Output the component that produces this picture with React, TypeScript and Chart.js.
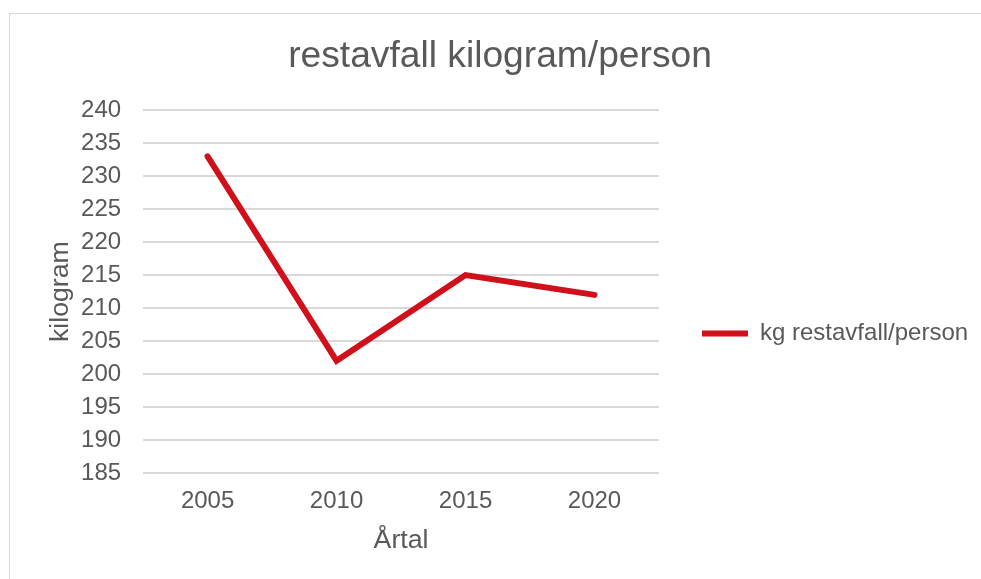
import React, { useEffect, useRef } from "react";
import { Chart, registerables } from "chart.js";

Chart.register(...registerables);

const years = ["2005", "2010", "2015", "2020"];
const kgPerPerson = [233, 202, 215, 212];
const seriesLabel = "kg restavfall/person";
const chartTitle = "restavfall kilogram/person";
const xAxisTitle = "Årtal";
const yAxisTitle = "kilogram";
const yMin = 185;
const yMax = 240;
const yStep = 5;

const FONT = "'Liberation Sans', Arial, Helvetica, sans-serif";
const TEXT = "#595959";
const GRID = "#d9d9d9";
const RED = "#d0101a";

export default function App() {
  const ref = useRef<HTMLCanvasElement | null>(null);

  useEffect(() => {
    if (!ref.current) return;
    const chart = new Chart(ref.current, {
      type: "line",
      data: {
        labels: years,
        datasets: [
          {
            label: seriesLabel,
            data: kgPerPerson,
            borderColor: RED,
            backgroundColor: RED,
            borderWidth: 6,
            borderCapStyle: "round",
            pointRadius: 0,
            pointHoverRadius: 0,
            pointStyle: "line",
            tension: 0,
            fill: false,
          },
        ],
      },
      options: {
        responsive: false,
        animation: false,
        devicePixelRatio: 1,
        layout: { padding: { left: 22, right: 3, top: 20, bottom: 18 } },
        plugins: {
          title: {
            display: true,
            text: chartTitle,
            color: TEXT,
            font: { family: FONT, size: 37.2, weight: "normal" },
            padding: { top: 14, bottom: 31.6 },
          },
          legend: {
            position: "right",
            maxWidth: 319,
            title: {
              display: true,
              text: "",
              font: { family: FONT, size: 12 },
              padding: { top: 71.6, bottom: 0 },
            },
            labels: {
              usePointStyle: true,
              pointStyle: "line",
              pointStyleWidth: 46,
              boxHeight: 24,
              padding: 43,
              color: TEXT,
              font: { family: FONT, size: 24 },
            },
          },
          tooltip: { enabled: false },
        },
        scales: {
          x: {
            offset: true,
            grid: { display: false, drawTicks: false },
            border: { display: false },
            ticks: {
              color: TEXT,
              font: { family: FONT, size: 24 },
              padding: 13.6,
            },
            title: {
              display: true,
              text: xAxisTitle,
              color: TEXT,
              font: { family: FONT, size: 26.7 },
              padding: { top: -4, bottom: 4 },
            },
          },
          y: {
            min: yMin,
            max: yMax,
            grid: { color: GRID, lineWidth: 2, drawTicks: false },
            border: { display: false },
            ticks: {
              stepSize: yStep,
              color: TEXT,
              font: { family: FONT, size: 24 },
              padding: 22,
            },
            title: {
              display: true,
              text: yAxisTitle,
              color: TEXT,
              font: { family: FONT, size: 26.7 },
              padding: { top: 23, bottom: -18 },
            },
          },
        },
      },
    });
    return () => chart.destroy();
  }, []);

  return (
    <div
      style={{
        position: "absolute",
        left: 0,
        top: 0,
        width: 981,
        height: 579,
        overflow: "hidden",
        background: "#ffffff",
      }}
    >
      <div
        style={{
          position: "absolute",
          left: 9,
          top: 13,
          width: 1000,
          height: 620,
          border: "1px solid #d9d9d9",
          boxSizing: "border-box",
        }}
      />
      <canvas
        ref={ref}
        width={981}
        height={579}
        style={{ position: "absolute", left: 0, top: 0, width: 981, height: 579 }}
      />
    </div>
  );
}
